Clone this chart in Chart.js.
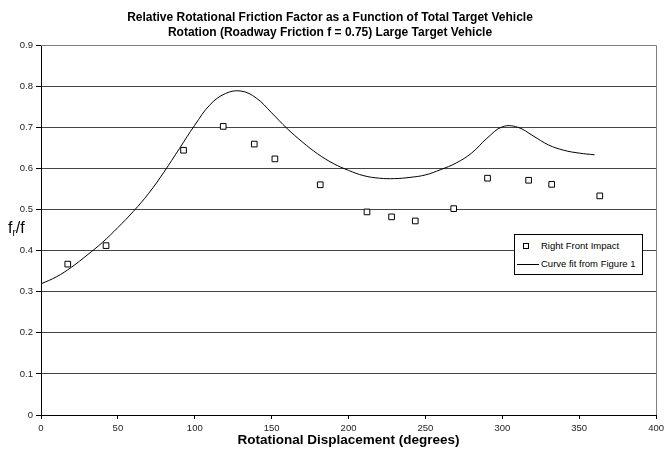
<!DOCTYPE html>
<html>
<head>
<meta charset="utf-8">
<title>Relative Rotational Friction Factor</title>
<script src="https://cdn.jsdelivr.net/npm/chart.js@4.4.0/dist/chart.umd.min.js"></script>
<style>
  html, body { margin: 0; padding: 0; background: #fff; }
  #wrap { position: relative; width: 668px; height: 456px; font-family: "Liberation Sans", Arial, sans-serif; color: #000; }
  #ylabel { position: absolute; left: 8px; top: 220px; font-size: 16px; line-height: 16px; white-space: nowrap; }
  #ylabel .sub { font-size: 10px; position: relative; top: 3px; }
  #legend { position: absolute; left: 514px; top: 234px; width: 127px; height: 39px; border: 1px solid #000; background: #fff; font-size: 9.5px; }
  #legend .row { position: absolute; left: 0; width: 127px; height: 12px; }
  #legend .txt { position: absolute; left: 26px; top: 0; line-height: 12px; white-space: nowrap; }
  #legend .sq { position: absolute; left: 8px; top: 3px; width: 4px; height: 4px; border: 1px solid #000; }
  #legend .ln { position: absolute; left: 2px; top: 6px; width: 22px; height: 1px; background: #000; }
</style>
</head>
<body>
<div id="wrap">
  <canvas id="chart" width="668" height="456"></canvas>
  <div id="ylabel">f<span class="sub">r</span>/f</div>
  <div id="legend">
    <div class="row" style="top:5px"><span class="sq"></span><span class="txt">Right Front Impact</span></div>
    <div class="row" style="top:23px"><span class="ln"></span><span class="txt">Curve fit from Figure 1</span></div>
  </div>
</div>
<script>
// --- measured points: right front impacts ---
const impactAngle = [17.4, 42.3, 92.7, 118.5, 138.7, 152.1, 181.6, 212, 228, 243.4, 268.4, 290.4, 317.1, 332.1, 363.4];
const impactRatio = [0.367, 0.412, 0.644, 0.702, 0.659, 0.623, 0.560, 0.494, 0.482, 0.472, 0.502, 0.576, 0.571, 0.561, 0.533];

// --- curve fit taken from figure 1, every 10 degrees ---
const fitAngle = [0, 10, 20, 30, 40, 50, 60, 70, 80, 90, 100, 110, 120, 130, 140, 150, 160, 170, 180,
                  190, 200, 210, 220, 230, 240, 250, 260, 270, 280, 290, 300, 310, 320, 330, 340, 350, 360];
const fitRatio = [0.319, 0.336, 0.360, 0.389, 0.420, 0.456, 0.495, 0.539, 0.591, 0.648, 0.705, 0.755, 0.782, 0.788, 0.771, 0.735, 0.697, 0.664, 0.635,
                  0.612, 0.595, 0.582, 0.576, 0.575, 0.578, 0.584, 0.597, 0.613, 0.637, 0.673, 0.701, 0.700, 0.679, 0.657, 0.644, 0.637, 0.633];

// --- axes ---
const xTicks = [0, 50, 100, 150, 200, 250, 300, 350, 400];
const yTicks = [0, 0.1, 0.2, 0.3, 0.4, 0.5, 0.6, 0.7, 0.8, 0.9];

const titleLines = [
    'Relative Rotational Friction Factor as a Function of Total Target Vehicle',
    'Rotation (Roadway Friction f = 0.75) Large Target Vehicle'
];

const FONT = '"Liberation Sans", Arial, sans-serif';

function toXY(xs, ys) {
    return xs.map((x, i) => ({ x: x, y: ys[i] }));
}

// grey frame along the top and right of the plot area
const plotFrame = {
    id: 'plotFrame',
    beforeDatasetsDraw(chart) {
        const { ctx, chartArea } = chart;
        ctx.save();
        ctx.strokeStyle = '#808080';
        ctx.lineWidth = 1;
        ctx.beginPath();
        const r = Math.round(chartArea.right) + 0.5;
        const t = Math.round(chartArea.top) + 0.5;
        ctx.moveTo(chartArea.left, t);
        ctx.lineTo(r, t);
        ctx.lineTo(r, chartArea.bottom);
        ctx.stroke();
        ctx.restore();
    }
};

new Chart(document.getElementById('chart').getContext('2d'), {
    type: 'scatter',
    data: {
        datasets: [
            {
                label: 'Right Front Impact',
                data: toXY(impactAngle, impactRatio),
                pointStyle: 'rect',
                pointRadius: 4,
                pointBackgroundColor: '#fff',
                pointBorderColor: '#000',
                pointBorderWidth: 1,
                showLine: false,
                order: 1
            },
            {
                label: 'Curve fit from Figure 1',
                data: toXY(fitAngle, fitRatio),
                showLine: true,
                pointRadius: 0,
                borderColor: '#000',
                borderWidth: 1,
                tension: 0.4,
                order: 2
            }
        ]
    },
    options: {
        responsive: false,
        animation: false,
        layout: { padding: { left: 0, right: 8, top: 0, bottom: 0 } },
        plugins: {
            legend: { display: false },
            tooltip: { enabled: false },
            title: {
                display: true,
                text: titleLines,
                color: '#000',
                font: { family: FONT, size: 12, weight: 'bold', lineHeight: 1.25 },
                padding: { top: 10, bottom: 5 }
            }
        },
        scales: {
            x: {
                type: 'linear',
                min: 0,
                max: 400,
                afterBuildTicks: s => { s.ticks = xTicks.map(v => ({ value: v })); },
                afterFit: s => { s.height = 41; },
                ticks: { color: '#222', font: { family: FONT, size: 9.5 }, padding: 4, autoSkip: false, maxRotation: 0 },
                grid: { drawOnChartArea: false, drawTicks: true, tickLength: 4, tickColor: '#000' },
                border: { color: '#000', width: 1 },
                title: {
                    display: true,
                    text: 'Rotational Displacement (degrees)',
                    color: '#000',
                    font: { family: FONT, size: 13.5, weight: 'bold' },
                    padding: { top: 0, bottom: 8 }
                }
            },
            y: {
                min: 0,
                max: 0.9,
                afterBuildTicks: s => { s.ticks = yTicks.map(v => ({ value: v })); },
                afterFit: s => { s.width = 41; },
                ticks: {
                    color: '#222',
                    font: { family: FONT, size: 9.5 },
                    padding: 3,
                    callback: v => String(Number(v.toFixed(1)))
                },
                grid: {
                    color: c => (c.tick && c.tick.value > 0.85 ? '#808080' : '#444'),
                    lineWidth: 1,
                    drawTicks: true,
                    tickLength: 5,
                    tickColor: '#000'
                },
                border: { color: '#000', width: 1 }
            }
        }
    },
    plugins: [plotFrame]
});
</script>
</body>
</html>
